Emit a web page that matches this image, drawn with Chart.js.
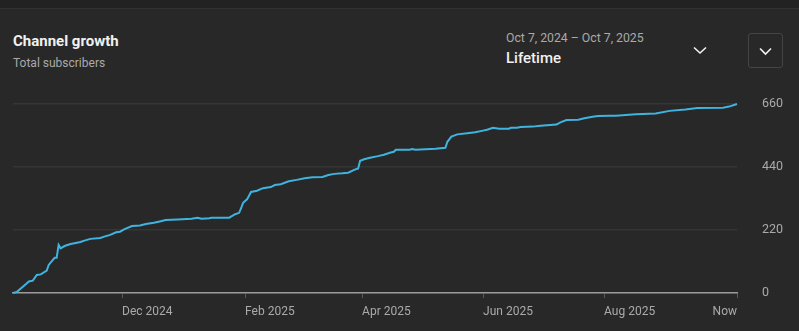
<!DOCTYPE html>
<html>
<head>
<meta charset="utf-8">
<script src="https://cdn.jsdelivr.net/npm/chart.js@4.4.1/dist/chart.umd.min.js"></script>
<style>
  html, body { margin: 0; padding: 0; background: #282828; }
  body { width: 799px; height: 331px; position: relative; overflow: hidden; font-family: Roboto, "Noto Sans", sans-serif; }
  .topbar { position: absolute; left: 0; top: 0; width: 799px; height: 8px; background: #222; border-bottom: 1px solid #313131; }
  .title { position: absolute; left: 13px; top: 32px; font-size: 15px; font-weight: 700; color: #f1f1f1; }
  .sub { position: absolute; left: 13px; top: 56px; font-size: 12px; color: #aaa; }
  .range { position: absolute; left: 506px; top: 31px; font-size: 12.25px; color: #aaa; }
  .period { position: absolute; left: 506px; top: 49px; font-size: 15px; font-weight: 500; color: #f1f1f1; }
  .chev { position: absolute; left: 693px; top: 46px; }
  .btn { position: absolute; left: 748px; top: 33px; width: 35px; height: 35px; border: 1px solid #444; border-radius: 3px; box-sizing: border-box; }
  .btn svg { position: absolute; left: 10px; top: 13px; }
  #wrap { position: absolute; left: 0; top: 0; width: 799px; height: 331px; }
</style>
</head>
<body>
<div class="topbar"></div>
<div class="title">Channel growth</div>
<div class="sub">Total subscribers</div>
<div class="range">Oct 7, 2024 – Oct 7, 2025</div>
<div class="period">Lifetime</div>
<svg class="chev" width="14" height="9" viewBox="0 0 14 9"><path d="M1 1.5 L7 7 L13 1.5" fill="none" stroke="#f1f1f1" stroke-width="1.6"/></svg>
<div class="btn"><svg width="13" height="9" viewBox="0 0 13 9"><path d="M1 1.5 L6.5 7 L12 1.5" fill="none" stroke="#f1f1f1" stroke-width="1.6"/></svg></div>
<div id="wrap"><canvas id="growth" width="799" height="331"></canvas></div>
<script>
// days since Oct 7, 2024 and total subscribers on that day
var days = [0, 2, 6, 8, 10, 12, 14, 17, 18, 20, 21, 22, 23, 24, 26, 29, 31, 34, 36, 39,
  44, 46, 49, 52, 54, 56, 60, 64, 67, 71, 74, 77, 83, 90, 93, 95, 99, 100, 109, 112,
  114, 115, 116, 118, 120, 123, 126, 130, 132, 135, 139, 143, 147, 151, 156, 159, 162, 166, 169, 172,
  174, 175, 177, 180, 184, 187, 190, 192, 193, 200, 201, 203, 213, 218, 219, 221, 224, 229, 233, 237,
  239, 242, 245, 250, 251, 254, 256, 262, 266, 274, 276, 279, 285, 288, 293, 295, 301, 304, 314, 324,
  331, 339, 345, 358, 361, 365];
var subscribers = [0, 4, 28, 40, 43, 63, 65, 78, 98, 115, 123, 123, 168, 156, 164, 171, 174, 178, 183, 189,
  192, 197, 203, 212, 214, 222, 234, 236, 241, 245, 250, 255, 257, 259, 263, 259, 261, 263, 263, 275,
  280, 296, 315, 327, 353, 357, 366, 370, 377, 380, 390, 395, 401, 404, 405, 412, 416, 418, 420, 430,
  435, 462, 467, 472, 478, 483, 490, 493, 500, 500, 503, 500, 504, 507, 528, 546, 554, 558, 561, 567,
  570, 577, 574, 574, 577, 577, 580, 581, 584, 588, 596, 604, 605, 610, 616, 618, 619, 619, 624, 627,
  636, 641, 646, 647, 651, 660];

// x axis ticks (day offsets) and their labels
var tickDays = [55, 117, 176, 237, 298, 365];
var tickLabels = ['Dec 2024', 'Feb 2025', 'Apr 2025', 'Jun 2025', 'Aug 2025', 'Now'];
var yTicks = [0, 220, 440, 660];

Chart.defaults.font.family = 'Roboto';
Chart.defaults.color = '#aaa';

var points = days.map(function (d, i) { return { x: d, y: subscribers[i] }; });

// month labels start at their tick, the last one ends at it
var xLabels = {
  id: 'xLabels',
  afterDraw: function (chart) {
    var ctx = chart.ctx, sx = chart.scales.x;
    ctx.save();
    ctx.font = '12px Roboto';
    ctx.fillStyle = '#aaa';
    ctx.textBaseline = 'middle';
    tickDays.forEach(function (d, i) {
      var px = sx.getPixelForValue(d);
      ctx.textAlign = i === tickDays.length - 1 ? 'right' : 'left';
      ctx.fillText(tickLabels[i], px, sx.top + 19);
    });
    ctx.restore();
  }
};

new Chart(document.getElementById('growth'), {
  type: 'line',
  data: {
    datasets: [{
      data: points,
      borderColor: '#3fb4e0',
      borderWidth: 2,
      pointRadius: 0,
      tension: 0,
      fill: false,
      clip: false
    }]
  },
  options: {
    responsive: false,
    animation: false,
    layout: { padding: { top: 104, left: 13, right: 0, bottom: 0 } },
    plugins: { legend: { display: false }, tooltip: { enabled: false } },
    scales: {
      x: {
        type: 'linear',
        min: 0,
        max: 365,
        afterBuildTicks: function (s) { s.ticks = tickDays.map(function (v) { return { value: v }; }); },
        afterFit: function (s) { s.height = 38; },
        grid: { drawOnChartArea: false, drawTicks: true, tickLength: 5, color: '#5a5a5a' },
        border: { color: '#9a9a9a', width: 1.5 },
        ticks: { display: false }
      },
      y: {
        position: 'right',
        min: 0,
        max: 660,
        afterBuildTicks: function (s) { s.ticks = yTicks.map(function (v) { return { value: v }; }); },
        afterFit: function (s) { s.width = 62; },
        grid: { color: '#353535', lineWidth: 1.5, drawTicks: false },
        border: { display: false },
        ticks: { padding: 25, color: '#aaa', font: { size: 12.5 } }
      }
    }
  },
  plugins: [xLabels]
});
</script>
</body>
</html>
